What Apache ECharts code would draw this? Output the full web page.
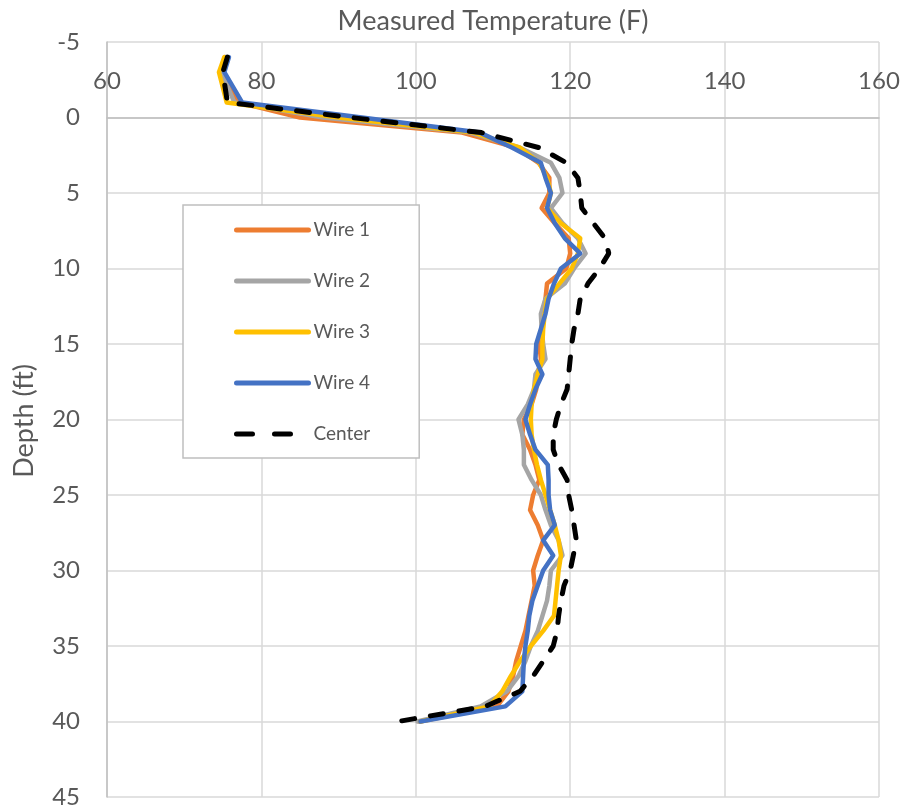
<!DOCTYPE html>
<html>
<head>
<meta charset="utf-8">
<script src="https://cdn.jsdelivr.net/npm/echarts@6/dist/echarts.min.js"></script>
<style>
html,body{margin:0;padding:0;background:#fff;}
#chart{width:904px;height:809px;}
</style>
</head>
<body>
<div id="chart"></div>
<script>
// Depth (ft) sample positions
const depthWires = [-4,-3,-1,0,1,2,3,4,5,6,7,8,9,10,11,12,13,14,15,16,17,18,19,20,21,22,23,24,25,26,27,28,29,30,31,32,33,34,35,36,37,38,39,40];
const depthCenter = [-4,-3,-1,0,1,2,3,4,5,6,7,8,9,10,11,12,13,14,15,16,17,18,19,20,21,22,23,24,25,26,27,28,29,30,31,32,33,34,35,36,37,38,39,40];

// Measured temperature (F)
const wire1 = [75.3,74.6,77.0,85,106,113,115.9,117.3,117.3,116.3,118,119.8,120,119.5,117,116.8,116.5,116.3,116,116.2,115.8,115.6,115,114,113.8,114.8,115.5,116,115.2,114.8,115.8,116.5,115.8,115.2,115.4,115,114.6,114.2,113.6,113,112.6,112,110.5,100.5];
const wire2 = [75.4,74.8,76.5,88,107,113.5,117.5,118.6,119,117.5,119,121,122,120.5,119.3,116.8,116.2,116.3,116.5,116.8,115.5,115.3,114.5,113.3,113.8,114,114,115,116.2,116.8,117.5,118.5,119,117.5,117.3,117,116.4,115.8,114.9,114.2,113.3,111.8,108.4,100.2];
const wire3 = [75.2,74.5,75.5,90,107.5,113.5,116,117,117.5,117,118.8,121.3,121,120.2,118.6,117,116.7,116.5,116.4,116.4,115.8,115.3,115,114.9,115,115.3,115.7,116.2,116.8,117.4,118,118.5,118.8,118.5,118.3,118.1,117.9,116.5,114.9,113.5,112.3,111.2,109.5,100.6];
const wire4 = [75.8,75.2,77.5,93,108.3,112.5,116.2,116.8,117.5,117,118,119.3,121.3,118.8,117.9,117.2,116.8,116.2,115.6,115.5,116.4,115.5,114.8,114.2,114.8,115.5,117.1,117.2,117.2,117.4,118,116.5,117.8,116.5,115.8,115.1,114.7,114.5,114.2,114,113.9,113.8,111.6,100.6];
const center = [75.6,75.0,75.6,91.6,108.5,116,119.5,121,121.3,121.5,123,124.5,125,123.8,122.3,121.3,121,120.5,120.2,120,119.8,119.6,118.8,118.2,117.8,117.8,118.5,119.6,119.8,120.2,120.5,120.8,120.4,120,119.2,118.8,118.5,118.3,117.8,116.5,115.2,113.5,109,97.7];

const seriesNames = ['Wire 1','Wire 2','Wire 3','Wire 4','Center'];
const xTicks = {min:60, max:160, interval:20};
const yTicks = {min:-5, max:45, interval:5};

function pairs(temps, depths){ return temps.map((t,i)=>[t, depths[i]]); }

const FONT = 'Lato';
const TXT = '#595959';
const chart = echarts.init(document.getElementById('chart'), null, {renderer:'canvas'});

const colors = ['#ED7D31','#A5A5A5','#FFC000','#4472C4','#000000'];
const datas = [pairs(wire1,depthWires),pairs(wire2,depthWires),pairs(wire3,depthWires),pairs(wire4,depthWires),pairs(center,depthCenter)];

const gridTop = 42, gridBottom = 12, H = 809;
const plotH = H - gridTop - gridBottom;
// x axis crosses the depth axis at depth 0
const xAxisOffset = -plotH * (0 - yTicks.min) / (yTicks.max - yTicks.min);

chart.setOption({
  animation:false,
  backgroundColor:'#fff',
  textStyle:{fontFamily:FONT},
  grid:{left:107, top:gridTop, right:25, bottom:gridBottom, containLabel:false},
  xAxis:{
    type:'value', position:'top', offset:xAxisOffset, min:xTicks.min, max:xTicks.max, interval:xTicks.interval,
    axisLine:{show:true, onZero:false, lineStyle:{color:'#BFBFBF', width:1.5}},
    axisTick:{show:false},
    axisLabel:{color:TXT, fontSize:24, fontFamily:FONT, margin:24},
    splitLine:{show:true, lineStyle:{color:'#D9D9D9', width:1.5}}
  },
  yAxis:{
    type:'value', inverse:true, min:yTicks.min, max:yTicks.max, interval:yTicks.interval,
    axisLine:{show:true, onZero:false, lineStyle:{color:'#BFBFBF', width:1.5}},
    axisTick:{show:false},
    axisLabel:{color:TXT, fontSize:24, fontFamily:FONT, margin:27},
    splitLine:{show:true, lineStyle:{color:'#D9D9D9', width:1.5}}
  },
  legend:{
    orient:'vertical', left:183, top:205,
    backgroundColor:'#fff', borderColor:'#BFBFBF', borderWidth:1.5,
    padding:[15,49,14,51], itemGap:31, itemWidth:72, itemHeight:20,
    itemStyle:{opacity:0},
    lineStyle:{width:5, cap:'round'},
    textStyle:{color:TXT, fontSize:19, fontFamily:FONT, lineHeight:20},
    data:[
      {name:'Wire 1'},{name:'Wire 2'},{name:'Wire 3'},{name:'Wire 4'},
      {name:'Center', lineStyle:{width:5, type:[16,22], cap:'round'}}
    ]
  },
  graphic:[
    {type:'text', x:493, y:21, style:{text:'Measured Temperature (F)', fill:TXT, font:'27px Lato', align:'center', verticalAlign:'middle', textAlign:'center', textVerticalAlign:'middle'}},
    {type:'text', x:24, y:421, rotation:Math.PI/2, style:{text:'Depth (ft)', fill:TXT, font:'27px Lato', align:'center', verticalAlign:'middle', textAlign:'center', textVerticalAlign:'middle'}}
  ],
  series: seriesNames.map((n,i)=>({
    name:n, type:'line', data:datas[i], showSymbol:false, symbol:'none',
    z: 2+i,
    color:colors[i],
    lineStyle: i===4 ? {color:colors[i], width:5, type:[13,16], cap:'round'} : {color:colors[i], width:4.5, cap:'round', join:'round'},
    itemStyle:{color:colors[i]}
  }))
});
</script>
</body>
</html>
